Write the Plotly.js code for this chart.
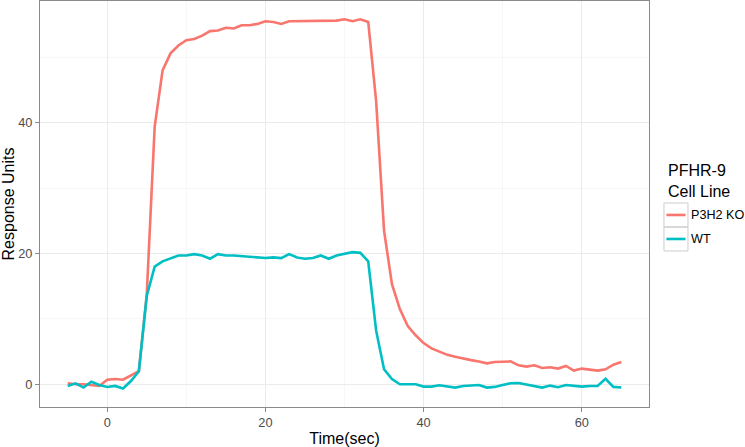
<!DOCTYPE html>
<html>
<head>
<meta charset="utf-8">
<script src="https://cdn.plot.ly/plotly-3.0.1.min.js"></script>
<style>
  html, body { margin: 0; padding: 0; background: #fff; }
  #chart { width: 745px; height: 447px; }
</style>
</head>
<body>
<div id="chart"></div>
<script>
// ── Data (1 s sampling) ─────────────────────────────────────────────────────
const timeSec = [
  -5, -4, -3, -2, -1, 0, 1, 2, 3, 4,
  5, 6, 7, 8, 9, 10, 11, 12, 13, 14,
  15, 16, 17, 18, 19, 20, 21, 22, 23, 24,
  25, 26, 27, 28, 29, 30, 31, 32, 33, 34,
  35, 36, 37, 38, 39, 40, 41, 42, 43, 44,
  45, 46, 47, 48, 49, 50, 51, 52, 53, 54,
  55, 56, 57, 58, 59, 60, 61, 62, 63, 64, 65
];

const koResponse = [
  0.15, 0.0, 0.0, -0.15, -0.25, 0.7, 0.8, 0.7, 1.4, 2.0,
  13.8, 39.4, 48.0, 50.6, 51.8, 52.6, 52.8, 53.3, 54.0, 54.1,
  54.5, 54.4, 54.9, 54.9, 55.1, 55.5, 55.4, 55.1, 55.5, 55.5,
  55.6, 55.5, 55.6, 55.5, 55.6, 55.8, 55.5, 55.8, 55.4, 43.3,
  23.5, 15.3, 11.5, 8.9, 7.5, 6.3, 5.5, 5.0, 4.5, 4.2,
  3.9, 3.7, 3.5, 3.2, 3.4, 3.5, 3.5, 2.9, 2.7, 2.9,
  2.5, 2.6, 2.4, 2.8, 2.1, 2.4, 2.3, 2.1, 2.3, 3.0, 3.4
];

const wtResponse = [
  -0.25, 0.15, -0.5, 0.4, -0.1, -0.4, -0.25, -0.65, 0.5, 2.0,
  13.5, 18.0, 18.8, 19.3, 19.7, 19.7, 19.9, 19.7, 19.2, 19.9,
  19.7, 19.7, 19.6, 19.6, 19.4, 19.3, 19.4, 19.3, 19.9, 19.4,
  19.2, 19.3, 19.7, 19.2, 19.7, 19.9, 20.2, 20.1, 18.8, 8.2,
  2.3, 0.8, 0.0, 0.0, 0.0, -0.35, -0.35, -0.15, -0.3, -0.5,
  -0.25, -0.2, -0.1, -0.5, -0.4, -0.1, 0.15, 0.2, 0.0, -0.25,
  -0.5, -0.2, -0.45, -0.1, -0.25, -0.35, -0.25, -0.25, 0.85, -0.4, -0.5
];

const seriesNames = ['P3H2 KO', 'WT'];
const seriesColors = ['#F8766D', '#00BFC4'];
const xTicks = [0, 20, 40, 60];
const yTicks = [0, 20, 40];

// ── Styling (ggplot theme_bw look) ──────────────────────────────────────────
const FONT = 'Arial, "Liberation Sans", sans-serif';
const GRID = '#ebebeb';
const MINOR = '#f7f7f7';
const BORDER = '#8a8a8a';

const traces = [koResponse, wtResponse].map((ys, i) => ({
  x: timeSec,
  y: ys,
  mode: 'lines',
  name: seriesNames[i],
  line: { color: seriesColors[i], width: 2.6 },
  showlegend: false
}));

// ── Hand-built legend (ggplot style key boxes) ──────────────────────────────
const LEG_X = 1.0246;           // key box left edge, paper units
const KEY_W = 0.0394;           // 24 px
const KEY_H = 0.0591;           // 24 px
const KEY_TOP = 0.5025;
const shapes = [];
const annotations = [];

annotations.push({
  xref: 'paper', yref: 'paper', x: LEG_X + 0.003, y: 0.609,
  xanchor: 'left', yanchor: 'top', align: 'left', showarrow: false,
  text: 'PFHR-9<br>Cell Line',
  font: { family: FONT, size: 16, color: '#000' }
});

seriesNames.forEach((name, i) => {
  const top = KEY_TOP - i * KEY_H;
  shapes.push({
    type: 'rect', xref: 'paper', yref: 'paper', layer: 'above',
    x0: LEG_X, x1: LEG_X + KEY_W, y0: top - KEY_H, y1: top,
    line: { color: '#cccccc', width: 1 }, fillcolor: 'rgba(0,0,0,0)'
  });
  shapes.push({
    type: 'line', xref: 'paper', yref: 'paper', layer: 'above',
    x0: LEG_X + 0.004, x1: LEG_X + KEY_W - 0.004,
    y0: top - KEY_H / 2, y1: top - KEY_H / 2,
    line: { color: seriesColors[i], width: 2.6 }
  });
  annotations.push({
    xref: 'paper', yref: 'paper', x: LEG_X + KEY_W + 0.001, y: top - KEY_H / 2,
    xanchor: 'left', yanchor: 'middle', showarrow: false,
    text: name, font: { family: FONT, size: 12.6, color: '#000' }
  });
});

const axisCommon = {
  showgrid: true, gridcolor: GRID, gridwidth: 1,
  zeroline: false,
  showline: true, mirror: true, linecolor: BORDER, linewidth: 1,
  ticks: 'outside', ticklen: 4, tickcolor: BORDER, tickwidth: 1,
  tickfont: { family: FONT, size: 12.8, color: '#4d4d4d' },
  minor: { dtick: 10, tick0: 0, showgrid: true, gridcolor: MINOR, gridwidth: 1 }
};

const layout = {
  width: 745, height: 447,
  paper_bgcolor: '#fff', plot_bgcolor: '#fff',
  margin: { l: 40, r: 96, t: 1, b: 40 },
  font: { family: FONT, color: '#000' },
  showlegend: false,
  xaxis: Object.assign({}, axisCommon, {
    range: [-8.5, 68.5],
    tickvals: xTicks, ticktext: xTicks.map(String),
    title: { text: 'Time(sec)', font: { family: FONT, size: 16, color: '#000' }, standoff: 4 }
  }),
  yaxis: Object.assign({}, axisCommon, {
    range: [-3.47, 58.6],
    tickvals: yTicks, ticktext: yTicks.map(String),
    title: { text: 'Response Units', font: { family: FONT, size: 16, color: '#000' }, standoff: 0 }
  }),
  shapes,
  annotations
};

Plotly.newPlot('chart', traces, layout, { displayModeBar: false, staticPlot: true });
</script>
</body>
</html>
